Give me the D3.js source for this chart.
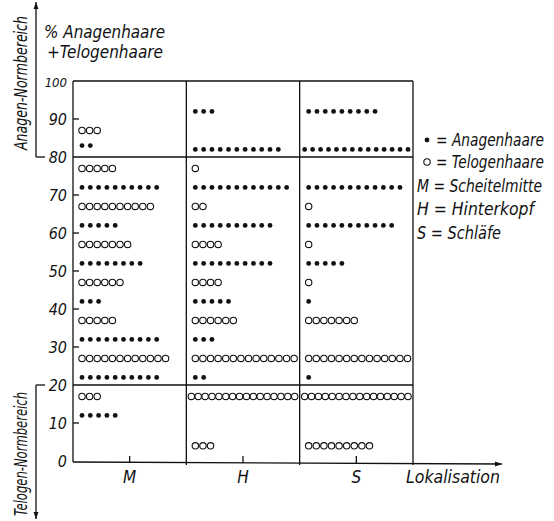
<!DOCTYPE html>
<html>
<head>
<meta charset="utf-8">
<script src="https://cdn.jsdelivr.net/npm/d3@7"></script>
<style>
  body { margin: 0; background: #fff; }
  text { font-family: "Liberation Sans Narrow", "DejaVu Sans Condensed", "Liberation Sans", sans-serif; font-style: italic; fill: #111; }
</style>
</head>
<body>
<svg id="chart" width="554" height="521"></svg>
<script>
// Lokalisation
const categories = ["M", "H", "S"];
const yTicks = [0, 10, 20, 30, 40, 50, 60, 70, 80, 90, 100];

// rows: [percent, number of cases]
const anagenM = [[83, 2], [72, 10], [62, 5], [52, 8], [42, 3], [32, 10], [22, 10], [12, 5]];
const telogenM = [[87, 3], [77, 5], [67, 10], [57, 7], [47, 6], [37, 5], [27, 12], [17, 3]];
const anagenH = [[92, 3], [82, 11], [72, 12], [62, 10], [52, 10], [42, 5], [32, 3], [22, 2]];
const telogenH = [[77, 1], [67, 2], [57, 4], [47, 4], [37, 6], [27, 14], [17, 16], [4, 3]];
const anagenS = [[92, 9], [82, 14], [72, 12], [62, 11], [52, 5], [42, 1], [22, 1]];
const telogenS = [[67, 1], [57, 1], [47, 1], [37, 7], [27, 14], [17, 16], [4, 9]];

const legendItems = [
  { sym: "A", label: "= Anagenhaare" },
  { sym: "T", label: "= Telogenhaare" },
  { sym: null, label: "M = Scheitelmitte" },
  { sym: null, label: "H = Hinterkopf" },
  { sym: null, label: "S = Schläfe" }
];

const svg = d3.select("#chart");
const ink = "#111";

const x = d3.scaleBand().domain(categories).range([73, 413]).padding(0);
const y = d3.scaleLinear().domain([0, 100]).range([461, 81]);

// arrow heads
const defs = svg.append("defs");
defs.append("marker")
  .attr("id", "arr")
  .attr("viewBox", "0 0 10 10")
  .attr("refX", 10).attr("refY", 5)
  .attr("markerWidth", 10).attr("markerHeight", 7)
  .attr("markerUnits", "userSpaceOnUse")
  .attr("orient", "auto")
  .append("path")
  .attr("d", "M0,1.5 L10,5 L0,8.5 Z")
  .attr("fill", ink);

const lines = svg.append("g").attr("stroke", ink).attr("stroke-width", 1.3).attr("fill", "none");

// frame
lines.append("line").attr("x1", 73).attr("x2", 413).attr("y1", y(100)).attr("y2", y(100));
lines.append("line").attr("x1", 73).attr("x2", 73).attr("y1", y(100)).attr("y2", y(0) + 1);
categories.slice(1).concat([null]).forEach(c => {
  const xx = c ? x(c) : x.range()[1];
  lines.append("line").attr("x1", xx).attr("x2", xx).attr("y1", y(100)).attr("y2", y(0) + 4);
});

// norm range limits with side arrows
[80, 20].forEach(v => {
  lines.append("line").attr("x1", 73).attr("x2", 413).attr("y1", y(v)).attr("y2", y(v));
  lines.append("line").attr("x1", 36).attr("x2", 45).attr("y1", y(v)).attr("y2", y(v));
});
lines.append("line").attr("x1", 36).attr("x2", 36).attr("y1", y(80)).attr("y2", 2)
  .attr("marker-end", "url(#arr)");
lines.append("line").attr("x1", 36).attr("x2", 36).attr("y1", y(20)).attr("y2", 519)
  .attr("marker-end", "url(#arr)");

// x axis with arrow
lines.append("line").attr("x1", 73).attr("x2", 502).attr("y1", y(0) + 1).attr("y2", y(0) + 3)
  .attr("marker-end", "url(#arr)");
categories.forEach(c => {
  const cx = x(c) + x.bandwidth() / 2;
  lines.append("line").attr("x1", cx).attr("x2", cx).attr("y1", y(0) + 2).attr("y2", y(0) - 5);
});

// y ticks (inside)
yTicks.filter(t => t > 0 && t < 100 && t !== 80 && t !== 20).forEach(t => {
  lines.append("line").attr("x1", 73).attr("x2", 79).attr("y1", y(t)).attr("y2", y(t));
});

// y tick labels
svg.append("g").selectAll("text")
  .data(yTicks)
  .join("text")
  .attr("x", 67)
  .attr("y", d => y(d) + 6)
  .attr("text-anchor", "end")
  .attr("font-size", d => d === 100 ? 13 : 16)
  .text(d => d);

// x labels
svg.append("g").selectAll("text")
  .data(categories)
  .join("text")
  .attr("x", d => x(d) + x.bandwidth() / 2)
  .attr("y", 483)
  .attr("text-anchor", "middle")
  .attr("font-size", 17)
  .text(d => d);

svg.append("text").attr("x", 406).attr("y", 483).attr("font-size", 17)
  .attr("textLength", 94).attr("lengthAdjust", "spacingAndGlyphs")
  .text("Lokalisation");

// y title
svg.append("text").attr("x", 44).attr("y", 38).attr("font-size", 18)
  .attr("textLength", 121).attr("lengthAdjust", "spacingAndGlyphs")
  .text("% Anagenhaare");
svg.append("text").attr("x", 47).attr("y", 58).attr("font-size", 18)
  .attr("textLength", 116).attr("lengthAdjust", "spacingAndGlyphs")
  .text("+Telogenhaare");

// side range labels
svg.append("text")
  .attr("transform", `translate(27,${y(80) - 7}) rotate(-90)`)
  .attr("font-size", 17)
  .attr("textLength", 134).attr("lengthAdjust", "spacingAndGlyphs")
  .text("Anagen-Normbereich");
svg.append("text")
  .attr("transform", `translate(27,${y(20) + 7}) rotate(-90)`)
  .attr("text-anchor", "end")
  .attr("font-size", 17)
  .attr("textLength", 124).attr("lengthAdjust", "spacingAndGlyphs")
  .text("Telogen-Normbereich");

// dots
const series = [
  { cat: "M", type: "A", rows: anagenM }, { cat: "M", type: "T", rows: telogenM },
  { cat: "H", type: "A", rows: anagenH }, { cat: "H", type: "T", rows: telogenH },
  { cat: "S", type: "A", rows: anagenS }, { cat: "S", type: "T", rows: telogenS }
];
const bw = x.bandwidth();
const dots = [];
series.forEach(s => {
  const x0 = x(s.cat);
  s.rows.forEach(([v, n]) => {
    const base = s.type === "A" ? 8.3 : 7.6;
    const sp = n > 1 ? Math.min(base, (bw - 10) / (n - 1)) : base;
    const start = Math.min(9, bw - 5 - (n - 1) * sp);
    d3.range(n).forEach(i => dots.push({ type: s.type, cx: x0 + start + i * sp, cy: y(v) }));
  });
});

svg.append("g").selectAll("circle")
  .data(dots)
  .join("circle")
  .attr("cx", d => d.cx)
  .attr("cy", d => d.cy)
  .attr("r", d => d.type === "A" ? 2.4 : 3.2)
  .attr("fill", d => d.type === "A" ? ink : "#fff")
  .attr("stroke", ink)
  .attr("stroke-width", d => d.type === "A" ? 0 : 1.1);

// legend
const leg = svg.append("g").selectAll("g")
  .data(legendItems)
  .join("g")
  .attr("transform", (d, i) => `translate(417,${[140, 162, 186, 209, 233][i]})`);
leg.filter(d => d.sym)
  .append("circle")
  .attr("cx", 10).attr("cy", 0)
  .attr("r", d => d.sym === "A" ? 2.4 : 3.2)
  .attr("fill", d => d.sym === "A" ? ink : "#fff")
  .attr("stroke", ink)
  .attr("stroke-width", d => d.sym === "A" ? 0 : 1.1);
leg.append("text")
  .attr("x", d => d.sym ? 19 : 0)
  .attr("y", 6)
  .attr("font-size", 18)
  .attr("textLength", (d, i) => [108, 108, 125, 117, 84][i])
  .attr("lengthAdjust", "spacingAndGlyphs")
  .text(d => d.label);
</script>
</body>
</html>
